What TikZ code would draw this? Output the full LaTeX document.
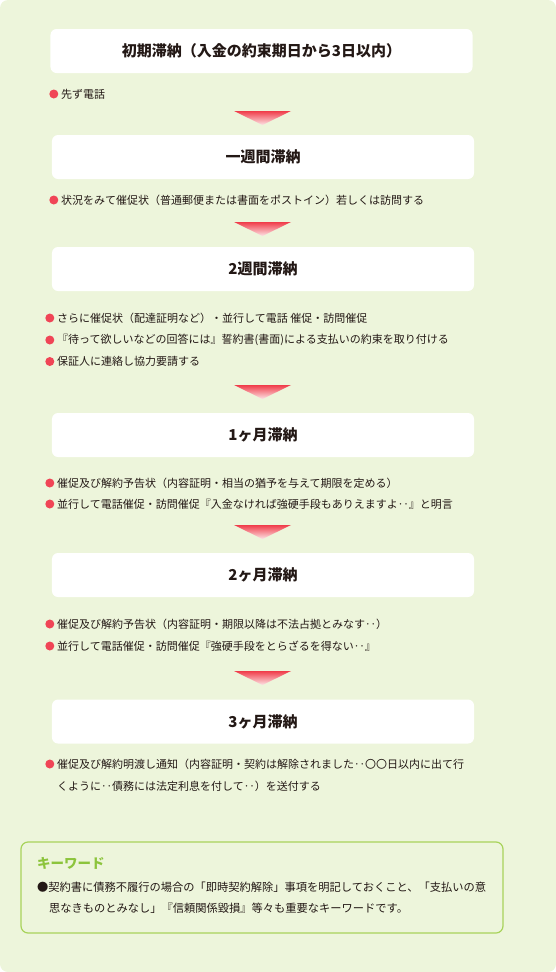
\documentclass[tikz,border=0pt]{standalone}
\usepackage{fontspec}
\setmainfont{Noto Sans CJK JP}
\usetikzlibrary{positioning}
\definecolor{bg}{HTML}{EDF5DB}
\definecolor{txt}{HTML}{231815}
\definecolor{dot}{HTML}{F04556}
\definecolor{kwt}{HTML}{8CC43C}
\definecolor{kwb}{HTML}{A8D35A}
\definecolor{triT}{HTML}{F03C4A}
\definecolor{triB}{HTML}{FDE4E6}
\tikzset{
  stagebox/.style={fill=white, rounded corners=6bp, minimum width=422bp, minimum height=44bp, inner sep=0pt, text=txt, font=\fontsize{15bp}{18bp}\selectfont\bfseries},
  item/.style={anchor=west, inner sep=0pt, text=txt, font=\fontsize{11bp}{13bp}\selectfont},
  reddot/.style={circle, fill=dot, minimum size=9bp, inner sep=0pt},
  downtri/.style={top color=triT, bottom color=triB, draw=none},
}
\newcommand\downarrowtri[1]{\shade[downtri] (234,#1) -- (291,#1) -- (262.5,#1+14) -- cycle;}
\begin{document}
\begin{tikzpicture}[x=1bp, y=-1bp]
\useasboundingbox (0,0) rectangle (556,972);
\fill[bg] (0,0) [rounded corners=8bp] rectangle (556,972);

% stage 1
\node[stagebox] (b1) at (261.5,51) {初期滞納（入金の約束期日から3日以内）};
\node[item] (t1a) at (61,94) {先ず電話};
\node[reddot, left=2.5bp of t1a] (d1a) {};
\downarrowtri{111}

% stage 2
\node[stagebox] (b2) at (263,157) {一週間滞納};
\node[item] (t2a) at (61,200) {状況をみて催促状（普通郵便または書面をポストイン）若しくは訪問する};
\node[reddot, left=2.5bp of t2a] (d2a) {};
\downarrowtri{222}

% stage 3
\node[stagebox] (b3) at (263,269) {2週間滞納};
\node[item] (t3a) at (57,318) {さらに催促状（配達証明など）・並行して電話 催促・訪問催促};
\node[item] (t3b) at (57,340) {『待って欲しいなどの回答には』誓約書(書面)による支払いの約束を取り付ける};
\node[item] (t3c) at (57,361.5) {保証人に連絡し協力要請する};
\node[reddot, left=2.5bp of t3a] (d3a) {};
\node[reddot, left=2.5bp of t3b] (d3b) {};
\node[reddot, left=2.5bp of t3c] (d3c) {};
\downarrowtri{385}

% stage 4
\node[stagebox] (b4) at (263,435) {1ヶ月滞納};
\node[item] (t4a) at (57,483) {催促及び解約予告状（内容証明・相当の猶予を与えて期限を定める）};
\node[item] (t4b) at (57,504) {並行して電話催促・訪問催促『入金なければ強硬手段もありえますよ‥』と明言};
\node[reddot, left=2.5bp of t4a] (d4a) {};
\node[reddot, left=2.5bp of t4b] (d4b) {};
\downarrowtri{525}

% stage 5
\node[stagebox] (b5) at (263,575) {2ヶ月滞納};
\node[item] (t5a) at (57,624) {催促及び解約予告状（内容証明・期限以降は不法占拠とみなす‥）};
\node[item] (t5b) at (57,646) {並行して電話催促・訪問催促『強硬手段をとらざるを得ない‥』};
\node[reddot, left=2.5bp of t5a] (d5a) {};
\node[reddot, left=2.5bp of t5b] (d5b) {};
\downarrowtri{671}

% stage 6
\node[stagebox] (b6) at (263,721.5) {3ヶ月滞納};
\node[item] (t6a) at (57,764) {催促及び解約明渡し通知（内容証明・契約は解除されました‥〇〇日以内に出て行};
\node[item] (t6b) at (57,786) {くように‥債務には法定利息を付して‥）を送付する};
\node[reddot, left=2.5bp of t6a] (d6a) {};

% keyword box
\node[draw=kwb, line width=1.2bp, rounded corners=7bp, minimum width=482bp, minimum height=91bp, inner sep=0pt] (kw) at (262,887.5) {};
\node[anchor=west, inner sep=0pt, text=kwt, font=\fontsize{13.5bp}{16bp}\selectfont\bfseries] (kwtitle) at (37,863) {キーワード};
\node[item, font=\fontsize{11.25bp}{13bp}\selectfont] (kw1) at (37,887) {●契約書に債務不履行の場合の「即時契約解除」事項を明記しておくこと、「支払いの意};
\node[item, font=\fontsize{11.25bp}{13bp}\selectfont] (kw2) at (49,908) {思なきものとみなし」『信頼関係毀損』等々も重要なキーワードです。};
\end{tikzpicture}
\end{document}
